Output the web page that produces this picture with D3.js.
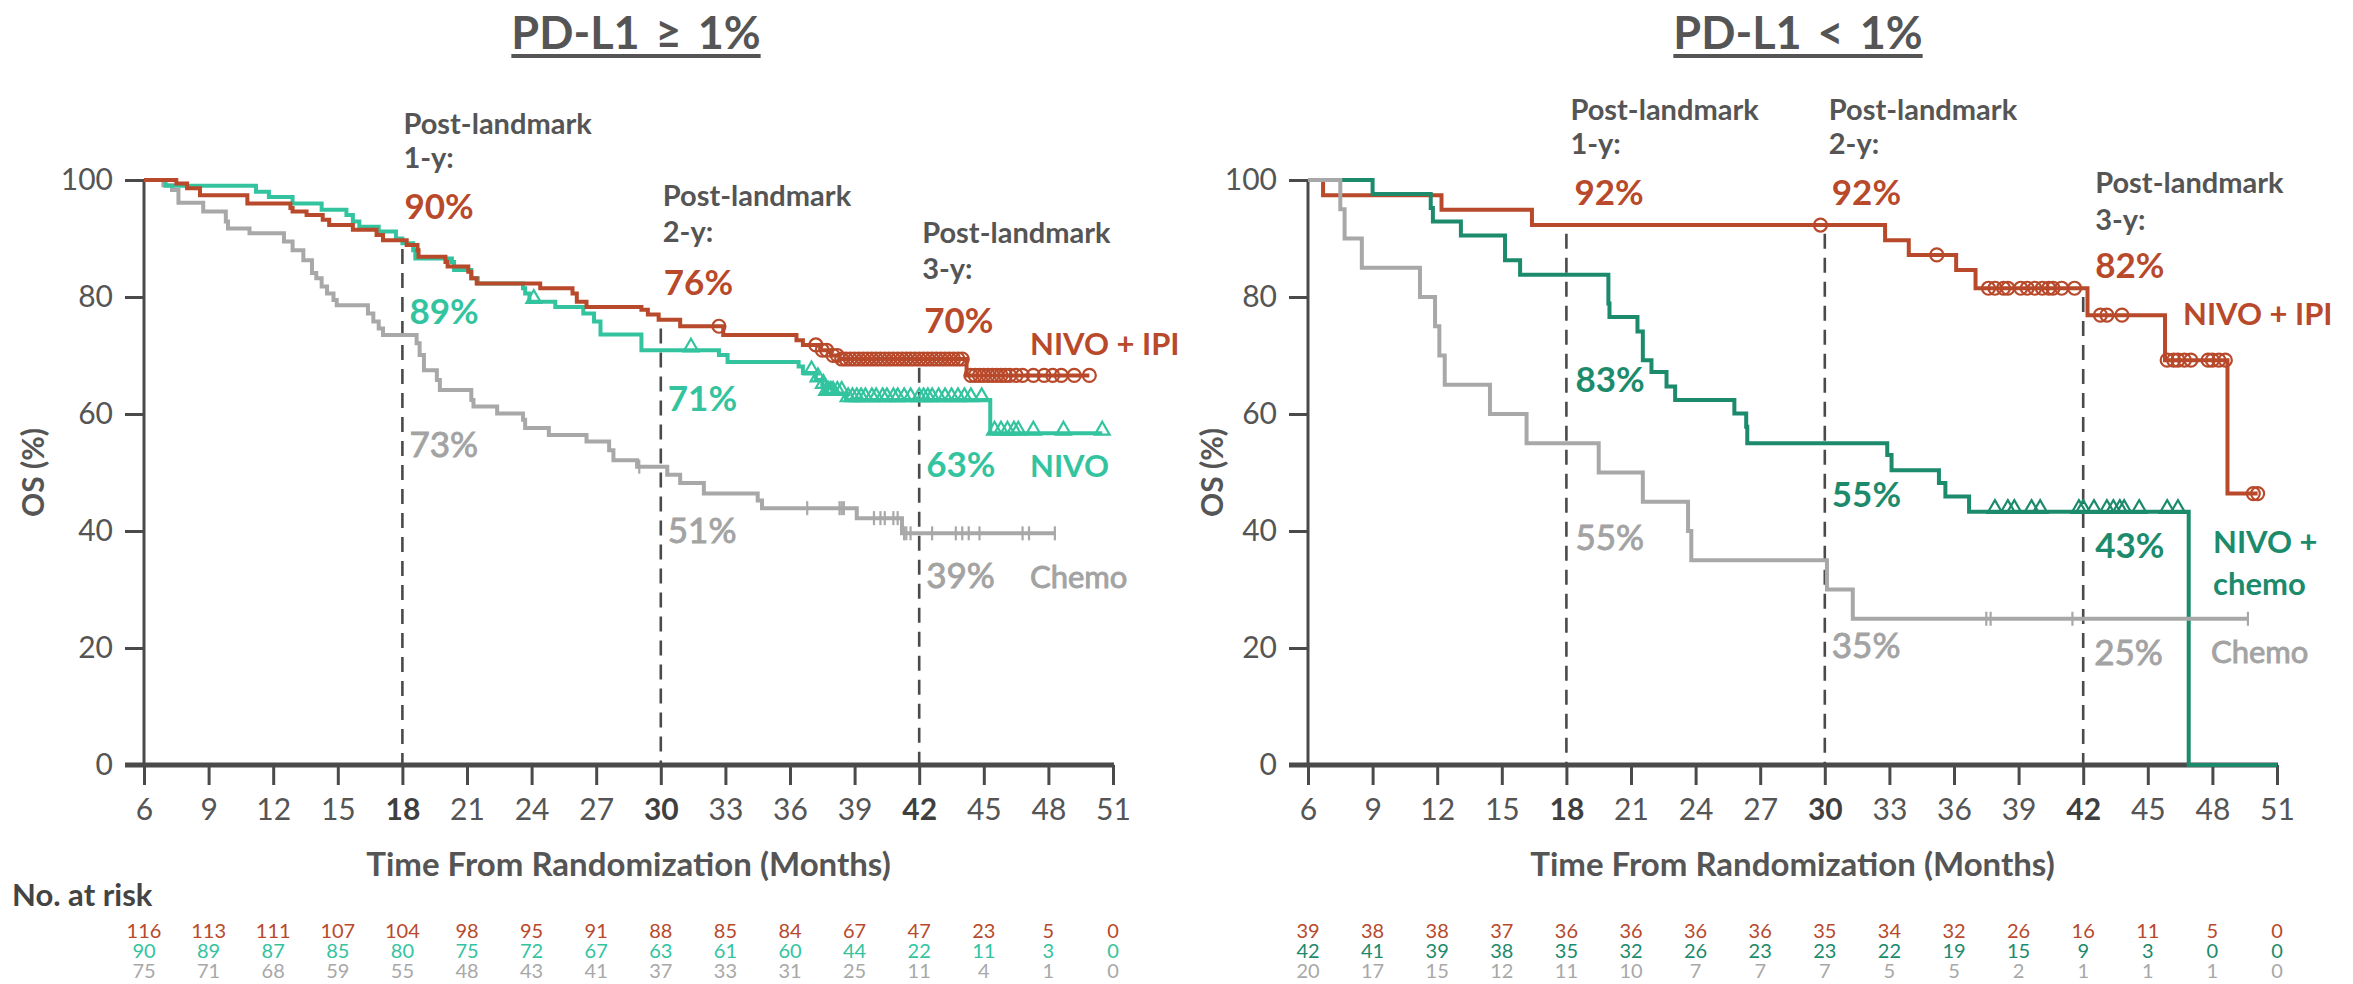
<!DOCTYPE html>
<html><head><meta charset="utf-8">
<script src="https://cdn.jsdelivr.net/npm/d3@7"></script>
<style>
body{margin:0;background:#fff;}
svg{display:block;font-family:Lato,"Open Sans",sans-serif;}
</style></head><body>
<svg id="c" width="2353" height="984"></svg>
<script>
// ---------- data ----------
const monthTicks = [6,9,12,15,18,21,24,27,30,33,36,39,42,45,48,51];
const boldTicks = [18,30,42];
const osTicks = [0,20,40,60,80,100];
const landmarkMonths = [18,30,42];

// PD-L1 >= 1%
const leftNivoIpi = [[6,100],[7.5,99.4],[8.0,98.6],[8.6,97.4],[10.8,96.0],[12.8,95.2],[12.9,94.6],[13.55,94.0],[14.3,93.2],[14.6,92.3],[15.7,91.5],[16.8,90.6],[17.1,89.7],[18.2,88.9],[18.7,88.0],[18.75,86.9],[20.0,86.0],[20.1,85.2],[21.06,84.3],[21.2,83.2],[21.45,82.3],[24.4,81.5],[25.9,80.6],[26.1,79.2],[26.55,78.3],[29.1,77.8],[29.4,77.0],[29.9,76.1],[30.9,75.0],[32.9,73.5],[36.3,72.6],[36.6,71.8],[37.4,70.9],[37.9,70.0],[38.3,69.4],[44.2,66.6]];
const leftNivoIpiEnd = 49.9;
const leftNivoIpiCensor = [32.7,37.2,37.5,37.7,38.0,38.2,38.4,38.6,38.8,39.0,39.2,39.4,39.6,39.8,40.0,40.2,40.4,40.6,40.8,41.0,41.2,41.4,41.6,41.8,42.0,42.2,42.4,42.6,42.8,43.0,43.2,43.4,43.6,43.8,44.0,44.4,44.6,44.8,45.0,45.2,45.4,45.6,45.8,46.0,46.2,46.5,46.8,47.3,47.8,48.2,48.6,49.2,49.9];

const leftNivo = [[6,100],[7.0,99.0],[11.2,98.0],[11.8,97.1],[12.9,96.0],[14.25,94.9],[15.4,94.0],[15.7,92.9],[16.0,92.0],[16.9,91.2],[17.7,90.0],[18.0,89.2],[18.5,88.0],[18.6,86.6],[20.3,86.0],[20.4,84.6],[21.2,83.2],[21.5,82.3],[23.6,81.5],[23.7,80.6],[23.9,79.2],[25.1,78.3],[26.4,77.2],[26.9,75.8],[27.2,73.6],[29.1,70.9],[32.7,70.1],[33.1,68.9],[36.4,68.1],[36.6,67.0],[37.2,65.8],[37.5,64.7],[37.6,63.5],[38.6,62.4],[45.3,56.7]];
const leftNivoEnd = 50.5;
const leftNivoCensor = [24.1,31.4,37.0,37.3,37.55,37.7,37.8,37.9,38.0,38.2,38.4,38.7,38.9,39.1,39.3,39.5,39.8,40.0,40.3,40.5,40.8,41.0,41.3,41.6,42.0,42.2,42.4,42.6,42.9,43.2,43.5,43.8,44.1,44.4,44.9,45.5,45.8,46.1,46.4,46.6,47.3,48.7,50.5];

const leftChemo = [[6,100],[6.9,99.1],[7.3,98.3],[7.6,96.1],[8.75,94.6],[9.8,92.9],[9.9,91.7],[10.9,90.9],[12.5,89.5],[12.9,88.0],[13.4,86.3],[13.8,84.1],[14.0,83.2],[14.25,81.8],[14.5,80.6],[14.8,79.5],[14.95,78.6],[16.4,77.2],[16.65,75.8],[16.9,74.6],[17.1,73.5],[18.66,72.1],[18.8,70.1],[19.0,67.5],[19.6,65.8],[19.74,64.1],[21.2,62.4],[21.3,61.3],[22.4,60.1],[23.6,59.0],[23.7,57.6],[24.8,56.4],[26.55,55.3],[27.6,53.8],[27.8,52.1],[28.9,51.0],[30.3,49.6],[30.9,48.2],[32.0,46.4],[34.5,45.2],[34.7,43.9],[39.1,42.2],[41.2,39.6]];
const leftChemoEnd = 48.3;
const leftChemoCensor = [29.0,36.8,38.3,38.4,38.5,39.9,40.2,40.4,40.8,41.0,41.3,41.4,41.6,42.6,43.7,44.0,44.3,44.8,46.8,47.1,48.3];

const leftRiskNivoIpi = [116,113,111,107,104,98,95,91,88,85,84,67,47,23,5,0];
const leftRiskNivo    = [90,89,87,85,80,75,72,67,63,61,60,44,22,11,3,0];
const leftRiskChemo   = [75,71,68,59,55,48,43,41,37,33,31,25,11,4,1,0];

// PD-L1 < 1%
const rightNivoIpi = [[6,100],[6.7,97.4],[12.2,94.9],[16.4,92.3],[32.8,89.7],[33.9,87.2],[36.1,84.6],[37.0,81.5],[42.2,76.9],[45.8,69.2],[48.7,46.4]];
const rightNivoIpiEnd = 50.1;
const rightNivoIpiCensor = [29.8,35.2,37.6,37.9,38.3,38.5,39.1,39.4,39.75,40.1,40.4,40.6,41.0,41.6,42.8,43.1,43.8,45.9,46.2,46.4,46.7,47.0,47.8,48.0,48.3,48.6,49.9,50.1];

const rightNivoChemo = [[6,100],[9.0,97.6],[11.7,95.2],[11.8,92.9],[13.1,90.5],[15.15,86.3],[15.85,83.8],[19.95,78.9],[20.0,76.6],[21.3,74.1],[21.55,69.2],[21.95,67.2],[22.65,64.7],[23.05,62.4],[25.8,60.1],[26.35,57.8],[26.4,55.0],[32.9,53.0],[33.1,50.4],[35.3,48.2],[35.6,45.9],[36.7,43.3],[46.9,0]];
const rightNivoChemoEnd = 51;
const rightNivoChemoCensor = [37.9,38.5,38.8,39.6,40.0,41.8,42.0,42.5,43.1,43.4,43.7,43.9,44.6,45.9,46.4];

const rightChemo = [[6,100],[7.5,95.0],[7.7,90.0],[8.5,85.0],[11.2,80.0],[11.9,75.0],[12.1,70.0],[12.35,65.0],[14.45,60.0],[16.15,55.0],[19.5,50.0],[21.55,45.0],[23.65,40.0],[23.8,35.0],[30.1,30.0],[31.3,25.0]];
const rightChemoEnd = 49.65;
const rightChemoCensor = [37.5,37.7,41.5,49.65];

const rightRiskNivoIpi   = [39,38,38,37,36,36,36,36,35,34,32,26,16,11,5,0];
const rightRiskNivoChemo = [42,41,39,38,35,32,26,23,23,22,19,15,9,3,0,0];
const rightRiskChemo     = [20,17,15,12,11,10,7,7,7,5,5,2,1,1,1,0];

// ---------- style ----------
const C = {red:'#B8492B', teal:'#33C49F', green:'#1B8B6C', gray:'#A8A8A8', grayText:'#A3A3A3', axis:'#4A4A4A', text:'#555555', dark:'#3F3F3F'};

const panels = [
  {title:'PD-L1 \u2265 1%', x0:144, x1:1113, titleX:636, ylabX:33,
   series:[
     {data:leftChemo, end:leftChemoEnd, censor:leftChemoCensor, color:C.gray, mark:'tick'},
     {data:leftNivo, end:leftNivoEnd, censor:leftNivoCensor, color:C.teal, mark:'tri'},
     {data:leftNivoIpi, end:leftNivoIpiEnd, censor:leftNivoIpiCensor, color:C.red, mark:'circle'}],
   risk:[[leftRiskNivoIpi,C.red],[leftRiskNivo,C.teal],[leftRiskChemo,C.gray]],
   labels:[
     {lm:18,dx:1,y:134,t:'Post-landmark',c:C.text,s:29,w:700},
     {lm:18,dx:1,y:168,t:'1-y:',c:C.text,s:29,w:700},
     {lm:18,dx:2,y:219,t:'90%',c:C.red,s:35,w:700},
     {lm:18,dx:7,y:324,t:'89%',c:C.teal,s:35,w:700},
     {lm:18,dx:7,y:457,t:'73%',c:C.grayText,s:35,w:400},
     {lm:30,dx:2,y:206,t:'Post-landmark',c:C.text,s:29,w:700},
     {lm:30,dx:2,y:242,t:'2-y:',c:C.text,s:29,w:700},
     {lm:30,dx:3,y:295,t:'76%',c:C.red,s:35,w:700},
     {lm:30,dx:7,y:411,t:'71%',c:C.teal,s:35,w:700},
     {lm:30,dx:7,y:543,t:'51%',c:C.grayText,s:35,w:400},
     {lm:42,dx:3,y:243,t:'Post-landmark',c:C.text,s:29,w:700},
     {lm:42,dx:3,y:279,t:'3-y:',c:C.text,s:29,w:700},
     {lm:42,dx:5,y:333,t:'70%',c:C.red,s:35,w:700},
     {lm:42,dx:7,y:477,t:'63%',c:C.teal,s:35,w:700},
     {lm:42,dx:7,y:588,t:'39%',c:C.grayText,s:35,w:400},
     {px:1030,y:355,t:'NIVO + IPI',c:C.red,s:31,w:700},
     {px:1030,y:477,t:'NIVO',c:C.teal,s:31,w:700},
     {px:1030,y:588,t:'Chemo',c:C.grayText,s:31,w:400}]},
  {title:'PD-L1 < 1%', x0:1308, x1:2277, titleX:1798, ylabX:1212,
   series:[
     {data:rightNivoIpi, end:rightNivoIpiEnd, censor:rightNivoIpiCensor, color:C.red, mark:'circle'},
     {data:rightNivoChemo, end:rightNivoChemoEnd, censor:rightNivoChemoCensor, color:C.green, mark:'tri'},
     {data:rightChemo, end:rightChemoEnd, censor:rightChemoCensor, color:C.gray, mark:'tick'}],
   risk:[[rightRiskNivoIpi,C.red],[rightRiskNivoChemo,C.green],[rightRiskChemo,C.gray]],
   labels:[
     {lm:18,dx:4,y:120,t:'Post-landmark',c:C.text,s:29,w:700},
     {lm:18,dx:4,y:154,t:'1-y:',c:C.text,s:29,w:700},
     {lm:18,dx:8,y:205,t:'92%',c:C.red,s:35,w:700},
     {lm:18,dx:9,y:392,t:'83%',c:C.green,s:35,w:700},
     {lm:18,dx:9,y:550,t:'55%',c:C.grayText,s:35,w:400},
     {lm:30,dx:4,y:120,t:'Post-landmark',c:C.text,s:29,w:700},
     {lm:30,dx:4,y:154,t:'2-y:',c:C.text,s:29,w:700},
     {lm:30,dx:7,y:205,t:'92%',c:C.red,s:35,w:700},
     {lm:30,dx:7,y:507,t:'55%',c:C.green,s:35,w:700},
     {lm:30,dx:7,y:658,t:'35%',c:C.grayText,s:35,w:400},
     {lm:42,dx:12,y:193,t:'Post-landmark',c:C.text,s:29,w:700},
     {lm:42,dx:12,y:230,t:'3-y:',c:C.text,s:29,w:700},
     {lm:42,dx:12,y:278,t:'82%',c:C.red,s:35,w:700},
     {lm:42,dx:12,y:558,t:'43%',c:C.green,s:35,w:700},
     {lm:42,dx:11,y:665,t:'25%',c:C.grayText,s:35,w:400},
     {px:2183,y:325,t:'NIVO + IPI',c:C.red,s:31,w:700},
     {px:2213,y:553,t:'NIVO +',c:C.green,s:31,w:700},
     {px:2213,y:595,t:'chemo',c:C.green,s:31,w:700},
     {px:2211,y:663,t:'Chemo',c:C.grayText,s:31,w:400}]}
];

const svg = d3.select('#c');
const yTop = 180, yBot = 765;
const y = d3.scaleLinear().domain([0,100]).range([yBot, yTop]);

function survAt(data, t){
  let v = data[0][1];
  for (const d of data){ if (d[0] <= t) v = d[1]; }
  return v;
}

panels.forEach(p => {
  const x = d3.scaleLinear().domain([6,51]).range([p.x0, p.x1]);
  const g = svg.append('g');

  // title
  const tt = g.append('text').attr('x', p.titleX).attr('y', 49).attr('text-anchor','middle')
    .attr('font-size', 45).attr('font-weight', 700).attr('fill', C.text)
    .attr('word-spacing', 5).text(p.title);
  const tw = tt.node().getComputedTextLength();
  g.append('line').attr('x1', p.titleX - tw/2).attr('x2', p.titleX + tw/2)
    .attr('y1', 56).attr('y2', 56).attr('stroke', C.text).attr('stroke-width', 4);

  // y axis
  const ya = g.append('g').attr('transform', `translate(${p.x0},0)`)
    .call(d3.axisLeft(y).tickValues(osTicks).tickSize(19).tickPadding(12));
  ya.select('.domain').remove();
  ya.selectAll('.tick line').attr('stroke', C.axis).attr('stroke-width', 3);
  ya.selectAll('.tick text').attr('font-size', 30).attr('fill', C.text).attr('font-family','Lato,"Open Sans",sans-serif');
  g.append('line').attr('x1', p.x0).attr('x2', p.x0).attr('y1', y(100)-1).attr('y2', yBot)
    .attr('stroke', C.axis).attr('stroke-width', 3);

  // x axis
  const xa = g.append('g').attr('transform', `translate(0,${yBot})`)
    .call(d3.axisBottom(x).tickValues(monthTicks).tickSize(20).tickPadding(14));
  xa.select('.domain').remove();
  xa.selectAll('.tick line').attr('stroke', C.axis).attr('stroke-width', 3);
  xa.selectAll('.tick text').attr('font-size', 30).attr('font-family','Lato,"Open Sans",sans-serif')
    .attr('fill', d => boldTicks.includes(d) ? C.dark : C.text)
    .attr('font-weight', d => boldTicks.includes(d) ? 700 : 400);
  g.append('line').attr('x1', p.x0 - 19).attr('x2', p.x1 + 1).attr('y1', yBot).attr('y2', yBot)
    .attr('stroke', C.axis).attr('stroke-width', 5);

  // axis titles
  g.append('text').attr('transform', `translate(${p.ylabX},${(yTop+yBot)/2})) rotate(-90)`.replace('))',')'))
    .attr('text-anchor','middle').attr('dy','0.35em').attr('font-size', 30).attr('font-weight', 700)
    .attr('fill', C.text).text('OS (%)');
  g.append('text').attr('x', (p.x0+p.x1)/2).attr('y', 876).attr('text-anchor','middle')
    .attr('font-size', 33).attr('font-weight', 700).attr('fill', C.text)
    .text('Time From Randomization (Months)');

  // landmark dashed lines
  landmarkMonths.forEach(m => {
    const top = d3.max(p.series, s => survAt(s.data, m)) - 1.5;
    g.append('line').attr('x1', x(m)).attr('x2', x(m)).attr('y1', y(top)).attr('y2', yBot)
      .attr('stroke', C.axis).attr('stroke-width', 2.6).attr('stroke-dasharray', '15 9');
  });

  // curves
  const line = d3.line().x(d => x(d[0])).y(d => y(d[1])).curve(d3.curveStepAfter);
  p.series.forEach(s => {
    const pts = s.data.concat([[s.end, s.data[s.data.length-1][1]]]);
    g.append('path').attr('d', line(pts)).attr('fill','none').attr('stroke', s.color)
      .attr('stroke-width', 4);
    const cg = g.append('g');
    s.censor.forEach(t => {
      const cx = x(t), cy = y(survAt(s.data, t));
      if (s.mark === 'circle') {
        cg.append('circle').attr('cx', cx).attr('cy', cy).attr('r', 6.5)
          .attr('fill','none').attr('stroke', s.color).attr('stroke-width', 2.2);
      } else if (s.mark === 'tri') {
        cg.append('path').attr('d', d3.symbol(d3.symbolTriangle, 95)())
          .attr('transform', `translate(${cx},${cy-3})`)
          .attr('fill','none').attr('stroke', s.color).attr('stroke-width', 2.2);
      } else {
        cg.append('line').attr('x1', cx).attr('x2', cx).attr('y1', cy-7).attr('y2', cy+7)
          .attr('stroke', s.color).attr('stroke-width', 2.2);
      }
    });
  });

  // annotations
  p.labels.forEach(l => {
    const t = g.append('text').attr('x', l.px !== undefined ? l.px : x(l.lm) + l.dx).attr('y', l.y)
      .attr('font-size', l.s).attr('font-weight', l.w).attr('fill', l.c).text(l.t);
    if (l.w === 400) t.attr('stroke', l.c).attr('stroke-width', 0.9);
  });

  // risk table
  p.risk.forEach((r, i) => {
    g.append('g').selectAll('text').data(r[0]).join('text')
      .attr('x', (d, j) => x(monthTicks[j])).attr('y', 938 + i*20)
      .attr('text-anchor','middle').attr('font-size', 20).attr('fill', r[1])
      .text(d => d);
  });
});

svg.append('text').attr('x', 12).attr('y', 906).attr('font-size', 31).attr('font-weight', 700)
  .attr('fill', '#444').text('No. at risk');
</script>
</body></html>
